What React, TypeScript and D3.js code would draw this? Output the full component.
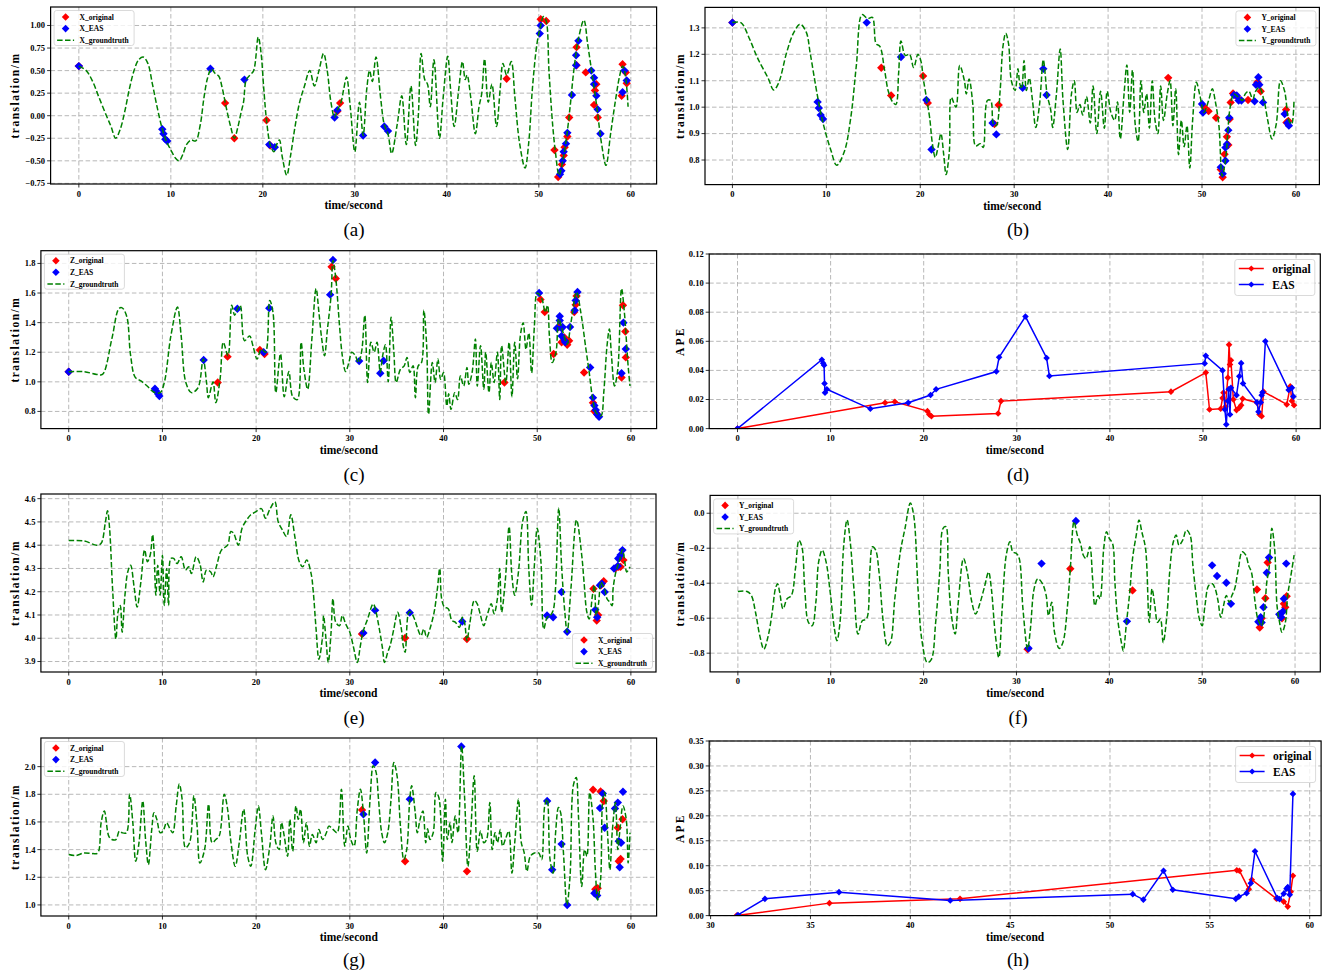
import React from "react";
import * as d3 from "d3";

type P = [number, number];

const FONT = "'Liberation Serif', 'Times New Roman', serif";
const RED = "#ff0000";
const BLUE = "#0000ff";
const GREEN = "#008000";

const TIME_TICKS = [0, 10, 20, 30, 40, 50, 60];
const TIME_TICKS_H = [30, 35, 40, 45, 50, 55, 60];

// ---------- (a) X ----------
const xTruthA: P[] = [
  [0, 0.55], [0.8, 0.5], [1.5, 0.38], [2.2, 0.2], [3, 0.0], [3.5, -0.12], [4, -0.25], [4.5, -0.15], [5, 0.05],
  [5.5, 0.3], [6, 0.5], [6.5, 0.62], [7, 0.65], [7.5, 0.58], [8, 0.35], [8.5, 0.1], [9, -0.12], [9.5, -0.28],
  [10, -0.38], [10.5, -0.47], [10.9, -0.5], [11.3, -0.43], [11.7, -0.32], [12.2, -0.27], [12.7, -0.28],
  [13.2, -0.1], [13.6, 0.2], [14, 0.42], [14.4, 0.52], [14.8, 0.47], [15.2, 0.44], [15.6, 0.3], [16, 0.1],
  [16.5, -0.12], [16.9, -0.25], [17.3, -0.12], [17.6, 0.02], [17.9, 0.15], [18.2, 0.4], [18.6, 0.45], [19, 0.5],
  [19.5, 0.87], [19.8, 0.7], [20.1, 0.3], [20.4, -0.05], [20.8, -0.32], [21.2, -0.4], [21.5, -0.32],
  [21.8, -0.27], [22.1, -0.45], [22.6, -0.66], [23, -0.45], [23.5, -0.12], [24, 0.15], [24.5, 0.32],
  [25.1, 0.5], [25.6, 0.33], [26.1, 0.5], [26.6, 0.69], [27, 0.5], [27.4, 0.15], [27.8, -0.02], [28.1, 0.06],
  [28.5, 0.15], [28.8, 0.3], [29.1, 0.43], [29.5, 0.1], [30, -0.4], [30.5, 0.15], [30.9, -0.22], [31.3, 0.3],
  [31.6, 0.5], [31.9, 0.38], [32.3, 0.65], [32.8, 0.2], [33.2, -0.1], [33.6, -0.2], [34, -0.42], [34.6, -0.1],
  [35.1, 0.22], [35.6, -0.32], [36.1, 0.33], [36.6, -0.33], [36.9, 0.0], [37.2, 0.69], [37.6, 0.4],
  [37.9, 0.35], [38.2, 0.1], [38.6, 0.62], [39.2, -0.25], [39.6, 0.2], [40.1, 0.66], [40.4, 0.3],
  [40.8, -0.12], [41.3, 0.3], [41.7, 0.6], [42, 0.4], [42.2, 0.45], [42.6, 0.2], [43.1, -0.2], [43.5, 0.1],
  [43.8, 0.25], [44.1, 0.63], [44.5, 0.15], [44.9, 0.35], [45.4, -0.12], [45.8, 0.3], [46.1, 0.58],
  [46.5, 0.45], [47.0, 0.6], [47.4, 0.2], [47.9, -0.3], [48.5, -0.58], [48.9, -0.3], [49.3, 0.3], [49.8, 0.8],
  [50.2, 1.0], [50.5, 1.1], [50.8, 1.05], [51.1, 0.5], [51.5, -0.1], [51.8, -0.4], [52.2, -0.66],
  [52.6, -0.5], [53.0, -0.25], [53.4, 0.1], [53.8, 0.5], [54.3, 0.85], [54.9, 1.06], [55.3, 0.8],
  [55.8, 0.45], [56.3, 0.1], [56.8, -0.3], [57.3, -0.55], [57.8, -0.2], [58.3, 0.15], [58.8, 0.45],
  [59.1, 0.55], [59.4, 0.45], [59.7, 0.1],
];
const xOrigA: P[] = [
  [0, 0.55], [15.9, 0.14], [16.9, -0.25], [20.4, -0.05], [20.8, -0.33], [28.1, 0.05], [28.4, 0.14],
  [46.5, 0.41], [50.2, 1.07], [50.8, 1.05], [51.7, -0.38], [52.1, -0.68], [52.5, -0.54], [52.7, -0.44],
  [52.8, -0.35], [53.1, -0.23], [53.3, -0.02], [54.1, 0.76], [54.1, 0.56], [55.1, 0.48], [56.0, 0.12],
  [56.1, 0.28], [56.25, 0.35], [56.4, -0.02], [59.0, 0.22], [59.1, 0.57], [59.45, 0.48], [59.55, 0.36],
];
const xEasA: P[] = [
  [0, 0.55], [9.07, -0.15], [9.2, -0.2], [9.4, -0.26], [9.6, -0.28], [14.3, 0.52], [18.0, 0.4],
  [20.7, -0.32], [21.3, -0.35], [27.8, -0.02], [28.1, 0.06], [30.9, -0.22], [33.2, -0.12], [33.6, -0.17],
  [50.1, 0.91], [50.2, 1.0], [52.3, -0.65], [52.45, -0.61], [52.6, -0.5], [52.7, -0.4], [52.95, -0.31],
  [53.1, -0.19], [53.6, 0.23], [54.05, 0.67], [54.05, 0.56], [54.3, 0.83], [55.7, 0.5], [56.0, 0.42],
  [56.0, 0.35], [56.25, 0.22], [56.4, 0.07], [56.7, -0.2], [59.1, 0.26], [59.3, 0.5], [59.55, 0.39],
];

// ---------- (b) Y ----------
const yTruthB: P[] = [
  [0, 1.32], [0.9, 1.32], [1.8, 1.26], [2.5, 1.2], [2.9, 1.17], [3.8, 1.11], [4.4, 1.065], [4.9, 1.09],
  [5.8, 1.21], [6.5, 1.28], [7.2, 1.314], [7.85, 1.285], [8.3, 1.2], [9.07, 1.04], [9.65, 0.94], [10.5, 0.835],
  [11.1, 0.78], [11.9, 0.83], [12.6, 0.96], [13.2, 1.16], [13.8, 1.35], [14.4, 1.335], [14.9, 1.34],
  [15.3, 1.24], [15.7, 1.23], [16.2, 1.14], [16.6, 1.06], [17.05, 1.02], [17.4, 1.01], [17.7, 1.13],
  [17.95, 1.25], [18.4, 1.196], [18.85, 1.2], [19.3, 1.15], [19.75, 1.2], [20.1, 1.17], [20.3, 1.113],
  [20.65, 1.037], [21.0, 0.96], [21.3, 0.86], [21.6, 0.81], [21.9, 0.85], [22.2, 0.9], [22.5, 0.82],
  [22.75, 0.745], [23.1, 0.834], [23.3, 1.037], [23.8, 1.0], [24.2, 1.158], [24.7, 1.1], [24.9, 1.05],
  [25.2, 1.107], [25.6, 1.01], [25.9, 0.853], [26.4, 0.862], [26.7, 0.847], [27.15, 1.025], [27.5, 1.025],
  [27.8, 0.936], [28.1, 0.93], [28.5, 1.06], [28.8, 1.228], [29.1, 1.28], [29.4, 1.24], [29.7, 1.1],
  [30.1, 1.063], [30.4, 1.145], [30.6, 1.088], [30.8, 1.07], [31.05, 1.177], [31.3, 1.063], [31.6, 1.11],
  [31.95, 1.025], [32.3, 0.923], [32.7, 1.01], [33.1, 1.18], [33.3, 1.126], [33.5, 1.05], [33.9, 0.987],
  [34.1, 0.923], [34.5, 1.05], [34.9, 1.22], [35.2, 1.025], [35.7, 0.84], [36.1, 1.05], [36.4, 1.1],
  [36.7, 0.98], [37.0, 1.01], [37.3, 0.97], [37.7, 1.04], [38.1, 0.94], [38.4, 1.08], [38.8, 0.9],
  [39.2, 1.06], [39.6, 0.92], [39.9, 1.06], [40.3, 0.98], [40.7, 0.95], [41.0, 1.02], [41.3, 0.88],
  [41.7, 1.05], [42.0, 1.16], [42.3, 0.98], [42.6, 1.14], [42.9, 0.93], [43.2, 0.87], [43.5, 1.1],
  [43.8, 0.98], [44.1, 1.05], [44.4, 0.92], [44.7, 1.1], [45.0, 0.95], [45.3, 0.9], [45.6, 1.08],
  [45.9, 0.95], [46.3, 1.05], [46.6, 1.1], [46.9, 0.93], [47.2, 1.07], [47.5, 0.82], [47.8, 0.95],
  [48.1, 0.85], [48.4, 0.93], [48.7, 0.77], [49.0, 0.95], [49.4, 1.094], [49.8, 1.04], [50.2, 0.98],
  [50.7, 1.025], [51.1, 1.07], [51.4, 1.025], [51.8, 0.93], [52.15, 0.74], [52.5, 0.8], [53.0, 1.0],
  [53.4, 1.05], [53.8, 1.04], [54.3, 1.025], [54.6, 1.05], [55.0, 1.06], [55.4, 1.03], [55.7, 1.06],
  [56.1, 1.075], [56.6, 1.025], [57.0, 0.95], [57.45, 0.88], [57.9, 0.935], [58.35, 1.1], [58.8, 1.06],
  [59.25, 0.95], [59.55, 0.936], [59.8, 1.03],
];
const yOrigB: P[] = [
  [0, 1.32], [15.85, 1.149], [16.9, 1.044], [20.3, 1.118], [20.8, 1.016], [27.9, 0.936], [28.35, 1.008],
  [46.4, 1.111], [50.25, 1.0], [50.7, 0.985], [51.5, 0.96], [52.0, 0.764], [52.2, 0.735], [52.4, 0.822],
  [52.65, 0.888], [52.8, 0.857], [52.95, 0.955], [53.05, 1.018], [53.3, 1.052], [53.8, 1.037], [54.9, 1.027],
  [55.9, 1.094], [56.25, 1.06], [58.95, 0.99], [59.0, 0.942], [59.2, 0.948],
];
const yEasB: P[] = [
  [0, 1.32], [9.07, 1.02], [9.2, 0.997], [9.4, 0.97], [9.65, 0.955], [14.3, 1.32], [17.95, 1.19],
  [20.65, 1.027], [21.2, 0.84], [27.7, 0.94], [28.1, 0.897], [30.9, 1.073], [33.1, 1.145], [33.45, 1.046],
  [50.0, 1.012], [50.1, 0.98], [52.0, 0.773], [52.2, 0.748], [52.5, 0.797], [52.5, 0.847], [52.65, 0.86],
  [52.8, 0.913], [52.9, 0.96], [53.4, 1.046], [53.7, 1.044], [53.9, 1.025], [54.2, 1.025], [55.6, 1.022],
  [55.75, 1.085], [56.0, 1.113], [56.1, 1.085], [56.5, 1.018], [58.8, 0.974], [59.1, 0.94], [59.25, 0.93],
];

// ---------- (c) Z ----------
const zTruthC: P[] = [
  [0, 1.068], [1.66, 1.068], [3.0, 1.05], [3.6, 1.05], [4.6, 1.29], [5.35, 1.494], [5.7, 1.5], [6.2, 1.44],
  [6.6, 1.18], [7.1, 1.03], [7.7, 1.006], [8.4, 0.97], [9.1, 0.93], [9.76, 0.927], [10.2, 0.995], [10.9, 1.31],
  [11.6, 1.505], [12.0, 1.31], [12.5, 0.995], [13.1, 0.927], [13.8, 0.96], [14.35, 1.154], [14.7, 1.0],
  [14.9, 0.893], [15.4, 1.0], [15.7, 0.859], [16.15, 1.017], [16.5, 1.267], [17.0, 1.176], [17.4, 1.517],
  [17.7, 1.45], [18.0, 1.49], [18.3, 1.517], [18.76, 1.278], [19.3, 1.31], [19.66, 1.244], [20.1, 1.154],
  [20.55, 1.222], [21.0, 1.2], [21.45, 1.55], [21.8, 1.47], [22.1, 0.927], [22.6, 1.19], [23.0, 0.9],
  [23.5, 1.07], [23.9, 0.9], [24.4, 0.88], [24.8, 1.267], [25.1, 1.085], [25.5, 0.95], [25.95, 1.29],
  [26.4, 1.63], [26.7, 1.47], [27.0, 1.29], [27.3, 1.176], [27.6, 1.35], [28.0, 1.585], [28.2, 1.82],
  [28.5, 1.7], [28.9, 1.38], [29.2, 1.176], [29.55, 1.07], [29.9, 1.13], [30.2, 1.2], [30.6, 1.176],
  [30.9, 1.13], [31.25, 1.2], [31.6, 1.45], [31.9, 0.995], [32.25, 1.267], [32.6, 1.2], [32.9, 1.267],
  [33.25, 1.063], [33.5, 1.176], [33.8, 1.25], [34.1, 1.0], [34.4, 1.437], [34.7, 1.2], [34.95, 0.995],
  [35.4, 1.085], [35.8, 1.108], [36.1, 1.165], [36.4, 1.063], [36.75, 1.108], [37.0, 0.893], [37.3, 1.108],
  [37.65, 1.13], [37.9, 1.483], [38.2, 1.244], [38.4, 0.78], [38.8, 1.13], [39.1, 0.995], [39.4, 1.154],
  [39.7, 1.017], [40.0, 1.063], [40.35, 0.837], [40.55, 0.92], [40.8, 0.814], [41.2, 0.927], [41.5, 0.88],
  [41.8, 1.04], [42.15, 0.972], [42.5, 1.097], [42.7, 0.984], [43.05, 1.063], [43.4, 1.29], [43.6, 0.97],
  [43.95, 1.244], [44.3, 0.95], [44.5, 1.2], [44.85, 0.927], [45.1, 1.13], [45.4, 0.995], [45.75, 1.2],
  [46.0, 0.88], [46.2, 1.244], [46.65, 0.995], [47.0, 1.267], [47.3, 0.9], [47.6, 1.267], [47.9, 1.02],
  [48.2, 1.312], [48.5, 1.4], [48.8, 1.22], [49.1, 1.33], [49.4, 1.06], [49.7, 1.38], [50.0, 1.6],
  [50.5, 1.56], [50.85, 1.47], [51.1, 1.517], [51.3, 1.31], [51.6, 1.13], [52.0, 1.2], [52.3, 1.425],
  [52.75, 1.335], [53.2, 1.255], [53.6, 1.4], [54.2, 1.607], [54.65, 1.47], [55.2, 1.22], [55.55, 1.063],
  [55.9, 0.893], [56.3, 0.79], [56.8, 0.77], [57.1, 0.927], [57.45, 1.244], [57.7, 1.357], [57.9, 1.2],
  [58.25, 0.972], [58.6, 1.085], [59.0, 1.63], [59.3, 1.47], [59.7, 1.108], [59.9, 0.972],
];
const zOrigC: P[] = [
  [0, 1.068], [15.9, 0.995], [16.95, 1.17], [20.4, 1.215], [20.9, 1.188], [28.05, 1.777], [28.5, 1.698],
  [46.5, 0.995], [50.35, 1.557], [50.8, 1.471], [51.75, 1.188], [52.3, 1.37], [52.6, 1.267], [52.9, 1.3],
  [53.2, 1.25], [53.4, 1.278], [53.95, 1.471], [54.1, 1.52], [54.2, 1.58], [55.0, 1.063], [55.95, 0.859],
  [56.1, 0.802], [56.3, 0.79], [56.5, 0.773], [59.0, 1.029], [59.15, 1.517], [59.4, 1.34], [59.45, 1.165],
];
const zEasC: P[] = [
  [0, 1.068], [9.2, 0.954], [9.3, 0.94], [9.55, 0.918], [9.67, 0.904], [14.4, 1.147], [18.0, 1.494],
  [20.8, 1.2], [21.4, 1.498], [27.9, 1.589], [28.2, 1.823], [31.0, 1.14], [33.25, 1.058], [33.6, 1.142],
  [50.2, 1.6], [52.1, 1.362], [52.4, 1.414], [52.4, 1.443], [52.6, 1.362], [52.6, 1.31], [52.7, 1.37],
  [52.95, 1.278], [53.0, 1.267], [53.5, 1.37], [54.0, 1.483], [54.1, 1.55], [54.3, 1.607], [55.65, 1.097],
  [55.95, 0.893], [56.1, 0.84], [56.25, 0.81], [56.4, 0.78], [56.6, 0.764], [59.0, 1.058], [59.2, 1.4],
  [59.45, 1.222],
];

// ---------- (d) APE ----------
const apeOrigD: P[] = [
  [0, 0], [15.85, 0.0178], [16.9, 0.0185], [20.4, 0.012], [20.6, 0.0097], [20.83, 0.0085], [27.99, 0.0104],
  [28.3, 0.0189], [46.56, 0.0254], [50.3, 0.0385], [50.7, 0.0131], [51.9, 0.0136], [52.1, 0.021],
  [52.2, 0.0247], [52.4, 0.015], [52.67, 0.035], [52.8, 0.0577], [52.9, 0.044], [53.0, 0.047], [53.26, 0.02],
  [53.6, 0.0127], [53.9, 0.0143], [54.1, 0.016], [54.26, 0.0205], [55.8, 0.0178], [56.07, 0.0097],
  [56.3, 0.0085], [56.5, 0.0254], [59.0, 0.0166], [59.37, 0.029], [59.55, 0.019], [59.78, 0.016],
];
const apeEasD: P[] = [
  [0, 0], [9.06, 0.0473], [9.2, 0.045], [9.3, 0.0436], [9.35, 0.031], [9.4, 0.0247], [9.6, 0.027],
  [14.27, 0.0136], [18.34, 0.0178], [20.74, 0.0231], [21.33, 0.027], [27.8, 0.0392], [28.1, 0.049],
  [30.93, 0.077], [33.2, 0.0485], [33.5, 0.0362], [50.18, 0.0448], [50.3, 0.05], [52.1, 0.04],
  [52.35, 0.0131], [52.5, 0.0028], [52.67, 0.019], [52.76, 0.027], [52.9, 0.0097], [53.0, 0.028],
  [53.6, 0.023], [53.9, 0.036], [54.1, 0.045], [54.3, 0.031], [55.8, 0.018], [55.96, 0.0115], [56.2, 0.018],
  [56.3, 0.023], [56.4, 0.025], [56.7, 0.06], [59.2, 0.0265], [59.55, 0.028], [59.7, 0.022],
];

// ---------- (e) X ----------
const xTruthE: P[] = [
  [0, 4.42], [1.66, 4.418], [3.0, 4.4], [3.46, 4.408], [3.9, 4.495], [4.14, 4.548], [4.36, 4.473],
  [4.68, 4.213], [5.04, 3.997], [5.26, 4.112], [5.5, 4.141], [5.7, 4.026], [6.0, 4.185], [6.3, 4.285],
  [6.6, 4.314], [7.0, 4.213], [7.3, 4.134], [7.7, 4.242], [8.1, 4.38], [8.4, 4.329], [8.7, 4.358],
  [8.95, 4.445], [9.1, 4.38], [9.3, 4.185], [9.5, 4.314], [9.76, 4.185], [10.0, 4.357], [10.2, 4.141],
  [10.45, 4.3], [10.66, 4.141], [10.9, 4.343], [11.2, 4.343], [11.56, 4.321], [12.0, 4.35], [12.46, 4.293],
  [12.8, 4.307], [13.1, 4.278], [13.6, 4.35], [14.0, 4.32], [14.35, 4.242], [14.7, 4.293], [15.16, 4.285],
  [15.4, 4.264], [15.8, 4.314], [16.3, 4.379], [16.96, 4.4], [17.3, 4.459], [17.6, 4.451], [18.1, 4.4],
  [18.5, 4.473], [19.0, 4.509], [19.43, 4.531], [19.9, 4.542], [20.56, 4.557], [21.0, 4.516], [21.45, 4.553],
  [22.0, 4.586], [22.36, 4.5], [22.8, 4.466], [23.26, 4.437], [23.7, 4.531], [24.16, 4.43], [24.6, 4.33],
  [24.97, 4.307], [25.4, 4.336], [25.87, 4.278], [26.1, 4.2], [26.4, 4.04], [26.7, 3.91], [27.1, 4.011],
  [27.2, 4.097], [27.45, 4.0], [27.7, 3.896], [28.0, 4.026], [28.2, 4.17], [28.5, 4.069], [28.9, 4.054],
  [29.2, 4.098], [29.55, 4.062], [30.0, 4.026], [30.36, 3.968], [30.8, 3.896], [31.1, 3.961], [31.4, 4.026],
  [31.9, 4.083], [32.5, 4.148], [32.8, 4.112], [33.15, 4.04], [33.5, 3.954], [33.7, 3.896], [34.05, 3.94],
  [34.3, 3.968], [34.7, 4.04], [35.1, 4.112], [35.5, 4.04], [35.7, 3.968], [35.9, 3.94], [36.3, 4.112],
  [36.5, 4.112], [36.9, 4.083], [37.2, 4.047], [37.6, 4.011], [37.9, 4.04], [38.2, 4.004], [38.55, 4.04],
  [39.0, 4.112], [39.35, 4.213], [39.6, 4.3], [39.8, 4.17], [40.1, 4.134], [40.5, 4.127], [40.9, 4.076],
  [41.25, 4.069], [41.7, 4.047], [42.0, 4.09], [42.24, 4.069], [42.5, 3.99], [42.8, 4.062], [43.3, 4.163],
  [43.6, 4.148], [43.95, 4.098], [44.3, 4.054], [44.6, 4.09], [45.1, 4.148], [45.4, 4.105], [45.75, 4.17],
  [46.0, 4.3], [46.2, 4.112], [46.6, 4.25], [47.0, 4.48], [47.3, 4.27], [47.6, 4.185], [48.0, 4.285],
  [48.45, 4.502], [48.8, 4.545], [49.1, 4.3], [49.4, 4.141], [49.7, 4.314], [50.0, 4.473], [50.4, 4.329],
  [50.7, 4.04], [51.06, 4.09], [51.4, 4.098], [51.7, 4.119], [51.95, 4.213], [52.3, 4.56], [52.6, 4.314],
  [52.95, 4.112], [53.2, 4.026], [53.6, 4.213], [54.2, 4.509], [54.75, 4.358], [55.0, 4.242], [55.3, 4.112],
  [55.55, 4.083], [55.9, 4.185], [56.1, 4.228], [56.3, 4.098], [56.55, 4.15], [56.8, 4.242], [57.0, 4.228],
  [57.2, 4.213], [57.45, 4.17], [57.75, 4.155], [58.0, 4.14], [58.1, 4.213], [58.4, 4.285], [58.8, 4.336],
  [59.1, 4.38], [59.4, 4.314], [59.55, 4.285], [59.9, 4.307],
];
const xOrigE: P[] = [
  [31.3, 4.018], [35.9, 4.001], [42.5, 3.997], [56.0, 4.213], [56.35, 4.076], [56.5, 4.1], [56.8, 4.228],
  [57.1, 4.245], [58.35, 4.3], [58.7, 4.307], [58.9, 4.307], [59.2, 4.336],
];
const xEasE: P[] = [
  [31.45, 4.023], [32.7, 4.12], [36.4, 4.11], [42.0, 4.072], [51.05, 4.098], [51.7, 4.09], [52.6, 4.199],
  [53.2, 4.028], [56.2, 4.122], [56.4, 4.09], [56.7, 4.228], [56.9, 4.235], [57.2, 4.199], [58.2, 4.3],
  [58.6, 4.311], [58.65, 4.343], [58.9, 4.358], [59.1, 4.379],
];

// ---------- (f) Y ----------
const yTruthF: P[] = [
  [0, -0.447], [1.0, -0.447], [1.45, -0.47], [1.9, -0.566], [2.36, -0.7], [2.8, -0.777], [3.27, -0.7],
  [3.7, -0.566], [4.04, -0.432], [4.27, -0.403], [4.5, -0.451], [4.86, -0.547], [5.3, -0.489], [5.76, -0.47],
  [6.2, -0.317], [6.58, -0.154], [6.9, -0.192], [7.2, -0.432], [7.6, -0.624], [8.0, -0.643], [8.4, -0.509],
  [8.7, -0.278], [9.08, -0.211], [9.5, -0.278], [9.94, -0.451], [10.4, -0.662], [10.67, -0.729], [11.0, -0.624],
  [11.4, -0.182], [11.76, -0.038], [12.1, -0.163], [12.5, -0.432], [12.94, -0.691], [13.4, -0.614],
  [13.85, -0.604], [14.2, -0.336], [14.5, -0.192], [14.84, -0.211], [15.2, -0.336], [15.66, -0.624],
  [16.1, -0.758], [16.43, -0.739], [16.9, -0.489], [17.5, -0.22], [18.0, -0.086], [18.57, 0.058],
  [18.93, -0.01], [19.4, -0.432], [19.8, -0.72], [20.4, -0.854], [20.84, -0.835], [21.3, -0.624],
  [21.74, -0.336], [22.1, -0.086], [22.4, -0.077], [22.65, -0.336], [23.0, -0.585], [23.4, -0.691],
  [23.7, -0.528], [24.3, -0.259], [24.7, -0.336], [25.2, -0.509], [25.6, -0.576], [26.1, -0.509],
  [26.55, -0.422], [27.0, -0.336], [27.3, -0.432], [27.7, -0.681], [28.1, -0.825], [28.46, -0.547],
  [28.9, -0.24], [29.3, -0.163], [29.6, -0.22], [30.0, -0.23], [30.3, -0.259], [30.7, -0.547], [31.2, -0.777],
  [31.5, -0.662], [31.9, -0.432], [32.3, -0.374], [32.8, -0.403], [33.2, -0.47], [33.45, -0.585],
  [33.8, -0.509], [34.1, -0.681], [34.6, -0.773], [35.0, -0.739], [35.5, -0.528], [35.8, -0.317],
  [36.2, -0.048], [36.55, -0.125], [36.9, -0.173], [37.2, -0.24], [37.5, -0.259], [37.9, -0.192],
  [38.2, -0.374], [38.45, -0.528], [38.8, -0.47], [39.0, -0.489], [39.4, -0.201], [39.7, -0.106],
  [40.0, -0.144], [40.35, -0.173], [40.6, -0.393], [40.9, -0.605], [41.3, -0.739], [41.5, -0.787],
  [41.85, -0.624], [42.2, -0.451], [42.5, -0.259], [42.9, -0.125], [43.2, -0.038], [43.5, -0.106],
  [43.9, -0.201], [44.3, -0.624], [44.6, -0.432], [44.9, -0.528], [45.2, -0.624], [45.5, -0.605],
  [45.8, -0.739], [46.2, -0.585], [46.5, -0.336], [46.85, -0.173], [47.2, -0.125], [47.5, -0.182],
  [47.9, -0.154], [48.3, -0.096], [48.7, -0.125], [49.0, -0.298], [49.35, -0.47], [49.7, -0.605],
  [50.0, -0.643], [50.3, -0.528], [50.7, -0.413], [51.1, -0.403], [51.4, -0.432], [51.7, -0.499],
  [52.0, -0.595], [52.3, -0.528], [52.6, -0.47], [52.9, -0.509], [53.2, -0.47], [53.5, -0.432],
  [53.9, -0.317], [54.3, -0.22], [54.7, -0.24], [55.0, -0.298], [55.3, -0.336], [55.7, -0.509],
  [56.0, -0.605], [56.4, -0.643], [56.7, -0.566], [56.96, -0.393], [57.2, -0.317], [57.5, -0.086],
  [57.8, -0.201], [58.06, -0.528], [58.3, -0.614], [58.6, -0.681], [58.96, -0.624], [59.2, -0.47],
  [59.5, -0.374], [59.9, -0.24],
];
const yOrigF: P[] = [
  [31.2, -0.777], [35.8, -0.317], [42.5, -0.441], [55.9, -0.436], [56.2, -0.653], [56.4, -0.601],
  [56.8, -0.486], [57.05, -0.282], [58.6, -0.601], [58.8, -0.518], [58.95, -0.537], [59.1, -0.474],
];
const yEasF: P[] = [
  [31.3, -0.772], [32.7, -0.288], [36.4, -0.044], [41.9, -0.618], [51.07, -0.298], [51.6, -0.359],
  [52.6, -0.397], [53.1, -0.518], [56.05, -0.62], [56.3, -0.595], [56.4, -0.624], [56.6, -0.537],
  [56.96, -0.34], [57.2, -0.253], [58.3, -0.578], [58.5, -0.595], [58.7, -0.562], [58.8, -0.489],
  [59.05, -0.288],
];

// ---------- (g) Z ----------
const zTruthG: P[] = [
  [0, 1.364], [0.76, 1.357], [1.66, 1.376], [2.56, 1.371], [3.1, 1.376], [3.46, 1.595], [3.8, 1.68],
  [4.27, 1.498], [4.6, 1.473], [5.04, 1.473], [5.4, 1.534], [5.7, 1.522], [6.16, 1.522], [6.5, 1.8],
  [6.84, 1.595], [7.15, 1.316], [7.5, 1.45], [7.9, 1.752], [8.2, 1.473], [8.5, 1.291], [8.86, 1.546],
  [9.1, 1.667], [9.4, 1.619], [9.76, 1.522], [10.07, 1.534], [10.44, 1.595], [10.8, 1.55], [11.1, 1.522],
  [11.47, 1.716], [11.8, 1.874], [12.1, 1.765], [12.46, 1.413], [12.9, 1.45], [13.36, 1.789], [13.7, 1.57],
  [14.0, 1.303], [14.5, 1.4], [14.93, 1.728], [15.3, 1.45], [15.7, 1.473], [16.06, 1.498], [16.6, 1.8],
  [16.96, 1.69], [17.3, 1.461], [17.77, 1.279], [18.2, 1.45], [18.67, 1.692], [19.1, 1.352], [19.43, 1.279],
  [19.9, 1.546], [20.24, 1.716], [20.56, 1.522], [21.0, 1.255], [21.46, 1.425], [21.8, 1.643], [22.1, 1.45],
  [22.45, 1.4], [22.7, 1.595], [23.0, 1.498], [23.35, 1.352], [23.6, 1.619], [23.9, 1.388], [24.25, 1.716],
  [24.5, 1.619], [24.74, 1.692], [25.05, 1.45], [25.37, 1.595], [25.7, 1.425], [26.0, 1.51], [26.4, 1.45],
  [26.7, 1.546], [27.1, 1.473], [27.5, 1.522], [27.76, 1.57], [28.2, 1.546], [28.65, 1.522], [29.1, 1.837],
  [29.46, 1.425], [29.8, 1.57], [30.1, 1.473], [30.45, 1.425], [30.8, 1.692], [31.13, 1.837], [31.45, 1.667],
  [31.8, 1.376], [32.16, 1.765], [32.5, 2.007], [32.8, 1.96], [33.06, 1.765], [33.4, 1.522], [33.7, 1.45],
  [34.05, 1.522], [34.4, 1.765], [34.7, 2.03], [35.04, 1.934], [35.4, 1.57], [35.76, 1.328], [36.07, 1.4],
  [36.4, 1.765], [36.6, 1.862], [36.98, 1.667], [37.2, 1.522], [37.5, 1.619], [37.8, 1.68], [38.1, 1.45],
  [38.3, 1.55], [38.55, 1.473], [38.9, 1.522], [39.2, 1.813], [39.5, 1.777], [39.9, 1.316], [40.2, 1.765],
  [40.4, 1.473], [40.7, 1.595], [40.9, 1.45], [41.25, 1.643], [41.55, 1.522], [41.93, 2.148], [42.24, 1.789],
  [42.6, 1.279], [42.9, 1.522], [43.27, 1.934], [43.6, 1.388], [43.95, 1.534], [44.3, 1.45], [44.6, 1.473],
  [44.94, 1.74], [45.2, 1.4], [45.5, 1.522], [45.75, 1.45], [46.06, 1.546], [46.3, 1.425], [46.65, 1.485],
  [46.96, 1.534], [47.3, 1.23], [47.6, 1.45], [48.0, 1.765], [48.3, 1.45], [48.6, 1.38], [48.9, 1.243],
  [49.26, 1.352], [49.7, 1.376], [50.16, 1.376], [50.47, 1.328], [50.8, 1.716], [51.06, 1.765],
  [51.37, 1.328], [51.7, 1.23], [51.96, 1.522], [52.27, 1.704], [52.5, 1.667], [52.8, 1.376], [53.17, 1.0],
  [53.5, 1.206], [53.85, 1.862], [54.16, 1.922], [54.4, 1.643], [54.75, 1.133], [55.06, 1.4], [55.3, 1.352],
  [55.6, 1.813], [55.96, 1.619], [56.2, 1.255], [56.45, 1.036], [56.76, 1.18], [57.0, 1.765], [57.2, 1.813],
  [57.5, 1.522], [57.76, 1.255], [58.0, 1.522], [58.35, 1.74], [58.6, 1.4], [58.8, 1.522], [59.15, 1.716],
  [59.5, 1.619], [59.7, 1.303], [59.9, 1.522],
];
const zOrigG: P[] = [
  [31.3, 1.687], [35.9, 1.316], [42.5, 1.243], [55.96, 1.833], [56.2, 1.114], [56.45, 1.121], [56.76, 1.82],
  [57.1, 1.752], [58.6, 1.558], [58.7, 1.316], [58.9, 1.333], [59.1, 1.619],
];
const zEasG: P[] = [
  [31.45, 1.655], [32.7, 2.03], [36.4, 1.765], [41.9, 2.145], [51.06, 1.752], [51.6, 1.255], [52.6, 1.44],
  [53.2, 1.0], [56.1, 1.085], [56.4, 1.068], [56.7, 1.7], [57.0, 1.806], [57.2, 1.558], [58.3, 1.697],
  [58.6, 1.74], [58.7, 1.461], [58.8, 1.272], [58.95, 1.45], [59.15, 1.818],
];

// ---------- (h) APE ----------
const apeOrigH: P[] = [
  [31.3, 0.0], [35.95, 0.025], [42.49, 0.0336], [56.35, 0.091], [56.48, 0.09], [56.95, 0.053], [57.1, 0.072],
  [58.33, 0.034], [58.7, 0.028], [58.9, 0.018], [59.05, 0.048], [59.16, 0.08],
];
const apeEasH: P[] = [
  [31.37, 0.0013], [32.72, 0.0336], [36.43, 0.047], [42.0, 0.0303], [51.14, 0.043], [51.67, 0.032],
  [52.68, 0.09], [53.14, 0.0518], [56.3, 0.0336], [56.45, 0.038], [56.84, 0.045], [57.05, 0.065],
  [57.26, 0.129], [58.38, 0.035], [58.49, 0.033], [58.7, 0.044], [58.84, 0.054], [58.9, 0.057], [59.0, 0.042],
  [59.16, 0.244],
];

const TICKS_A = [-0.75, -0.5, -0.25, 0, 0.25, 0.5, 0.75, 1.0];
const TICKS_B = [0.8, 0.9, 1.0, 1.1, 1.2, 1.3];
const TICKS_C = [0.8, 1.0, 1.2, 1.4, 1.6, 1.8];
const TICKS_D = [0, 0.02, 0.04, 0.06, 0.08, 0.1, 0.12];
const TICKS_E = [3.9, 4.0, 4.1, 4.2, 4.3, 4.4, 4.5, 4.6];
const TICKS_F = [-0.8, -0.6, -0.4, -0.2, 0.0];
const TICKS_G = [1.0, 1.2, 1.4, 1.6, 1.8, 2.0];
const TICKS_H = [0, 0.05, 0.1, 0.15, 0.2, 0.25, 0.3, 0.35];

type Box = { x0: number; x1: number; y0: number; y1: number };
type Panel = {
  id: string;
  kind: "track" | "ape";
  box: Box;
  xDomain: [number, number];
  yDomain: [number, number];
  xTicks: number[];
  yTicks: number[];
  digits: number;
  yLabel: string;
  caption: string;
  capX: number;
  capY: number;
  truth?: P[];
  orig: P[];
  eas: P[];
  names: string[];
  legendPos: "ul" | "ur" | "lr";
};

const panels: Panel[] = [
  { id: "a", kind: "track", box: { x0: 50.6, x1: 656.6, y0: 7, y1: 184 }, xDomain: [-3.07, 62.8], yDomain: [-0.757, 1.205],
    xTicks: TIME_TICKS, yTicks: TICKS_A, digits: 2, yLabel: "translation/m", caption: "(a)", capX: 354, capY: 236,
    truth: xTruthA, orig: xOrigA, eas: xEasA, names: ["X_original", "X_EAS", "X_groundtruth"], legendPos: "ul" },
  { id: "b", kind: "track", box: { x0: 705, x1: 1319.4, y0: 7.4, y1: 184.6 }, xDomain: [-2.92, 62.5], yDomain: [0.707, 1.3775],
    xTicks: TIME_TICKS, yTicks: TICKS_B, digits: 1, yLabel: "translation/m", caption: "(b)", capX: 1018, capY: 236,
    truth: yTruthB, orig: yOrigB, eas: yEasB, names: ["Y_original", "Y_EAS", "Y_groundtruth"], legendPos: "ur" },
  { id: "c", kind: "track", box: { x0: 40.9, x1: 656.6, y0: 250.7, y1: 428.6 }, xDomain: [-2.97, 62.74], yDomain: [0.684, 1.886],
    xTicks: TIME_TICKS, yTicks: TICKS_C, digits: 1, yLabel: "translation/m", caption: "(c)", capX: 354, capY: 480.5,
    truth: zTruthC, orig: zOrigC, eas: zEasC, names: ["Z_original", "Z_EAS", "Z_groundtruth"], legendPos: "ul" },
  { id: "d", kind: "ape", box: { x0: 709.2, x1: 1320.3, y0: 254, y1: 428.6 }, xDomain: [-3.04, 62.6], yDomain: [0, 0.12],
    xTicks: TIME_TICKS, yTicks: TICKS_D, digits: 2, yLabel: "APE", caption: "(d)", capX: 1018, capY: 480.5,
    orig: apeOrigD, eas: apeEasD, names: ["original", "EAS"], legendPos: "ur" },
  { id: "e", kind: "track", box: { x0: 40.9, x1: 656, y0: 494, y1: 672 }, xDomain: [-2.97, 62.68], yDomain: [3.855, 4.62],
    xTicks: TIME_TICKS, yTicks: TICKS_E, digits: 1, yLabel: "translation/m", caption: "(e)", capX: 354, capY: 724,
    truth: xTruthE, orig: xOrigE, eas: xEasE, names: ["X_original", "X_EAS", "X_groundtruth"], legendPos: "lr" },
  { id: "f", kind: "track", box: { x0: 710.1, x1: 1320.3, y0: 495.4, y1: 671.9 }, xDomain: [-2.99, 62.72], yDomain: [-0.907, 0.102],
    xTicks: TIME_TICKS, yTicks: TICKS_F, digits: 1, yLabel: "translation/m", caption: "(f)", capX: 1018, capY: 724,
    truth: yTruthF, orig: yOrigF, eas: yEasF, names: ["Y_original", "Y_EAS", "Y_groundtruth"], legendPos: "ul" },
  { id: "g", kind: "track", box: { x0: 40.9, x1: 656.6, y0: 738, y1: 916 }, xDomain: [-2.97, 62.74], yDomain: [0.92, 2.207],
    xTicks: TIME_TICKS, yTicks: TICKS_G, digits: 1, yLabel: "translation/m", caption: "(g)", capX: 354, capY: 966,
    truth: zTruthG, orig: zOrigG, eas: zEasG, names: ["Z_original", "Z_EAS", "Z_groundtruth"], legendPos: "ul" },
  { id: "h", kind: "ape", box: { x0: 709.2, x1: 1321.1, y0: 741, y1: 915.6 }, xDomain: [29.93, 60.57], yDomain: [0, 0.35],
    xTicks: TIME_TICKS_H, yTicks: TICKS_H, digits: 2, yLabel: "APE", caption: "(h)", capX: 1018, capY: 966,
    orig: apeOrigH, eas: apeEasH, names: ["original", "EAS"], legendPos: "ur" },
];

const diamond = (r: number) => `M0,${-r}L${r},0L0,${r}L${-r},0Z`;
const fmt = (v: number, digits: number) => {
  const s = Math.abs(v).toFixed(digits);
  return v < -1e-9 ? "\u2212" + s : s;
};

function ChartPanel({ p }: { p: Panel }) {
  const { box } = p;
  const x = d3.scaleLinear().domain(p.xDomain).range([box.x0, box.x1]);
  const y = d3.scaleLinear().domain(p.yDomain).range([box.y1, box.y0]);
  const clipId = `clip-${p.id}`;
  const truthLine = d3
    .line<P>()
    .x((d) => x(d[0]))
    .y((d) => y(d[1]))
    .curve(d3.curveCatmullRom.alpha(0.5));
  const apeLine = d3
    .line<P>()
    .x((d) => x(d[0]))
    .y((d) => y(d[1]));
  const isApe = p.kind === "ape";
  const mr = isApe ? 3.3 : 4.2;

  // legend geometry
  const lw = 80;
  const lh = isApe ? 36 : 35;
  const pad = isApe ? 5.5 : 3.5;
  let lx = box.x0 + pad;
  let ly = box.y0 + pad;
  if (p.legendPos === "ur") lx = box.x1 - pad - lw;
  if (p.legendPos === "lr") {
    lx = box.x1 - pad - lw;
    ly = box.y1 - pad - lh;
  }

  return (
    <g>
      <defs>
        <clipPath id={clipId}>
          <rect x={box.x0} y={box.y0} width={box.x1 - box.x0} height={box.y1 - box.y0} />
        </clipPath>
      </defs>
      <rect x={box.x0} y={box.y0} width={box.x1 - box.x0} height={box.y1 - box.y0} fill="#fff" />
      {/* grid */}
      <g stroke="#b0b0b0" strokeWidth={0.9} strokeDasharray="4.5,2.5">
        {p.xTicks.map((t) => (
          <line key={`gx${t}`} x1={x(t)} x2={x(t)} y1={box.y0} y2={box.y1} />
        ))}
        {p.yTicks.map((t) => (
          <line key={`gy${t}`} x1={box.x0} x2={box.x1} y1={y(t)} y2={y(t)} />
        ))}
      </g>
      <g clipPath={`url(#${clipId})`}>
        {isApe ? (
          <>
            <path d={apeLine(p.orig) || ""} fill="none" stroke={RED} strokeWidth={1.5} />
            {p.orig.map((d, i) => (
              <path key={`ro${i}`} d={diamond(mr)} transform={`translate(${x(d[0])},${y(d[1])})`} fill={RED} />
            ))}
            <path d={apeLine(p.eas) || ""} fill="none" stroke={BLUE} strokeWidth={1.5} />
            {p.eas.map((d, i) => (
              <path key={`be${i}`} d={diamond(mr)} transform={`translate(${x(d[0])},${y(d[1])})`} fill={BLUE} />
            ))}
          </>
        ) : (
          <>
            {p.orig.map((d, i) => (
              <path key={`ro${i}`} d={diamond(mr)} transform={`translate(${x(d[0])},${y(d[1])})`} fill={RED} />
            ))}
            {p.eas.map((d, i) => (
              <path key={`be${i}`} d={diamond(mr)} transform={`translate(${x(d[0])},${y(d[1])})`} fill={BLUE} />
            ))}
            <path
              d={truthLine(p.truth || []) || ""}
              fill="none"
              stroke={GREEN}
              strokeWidth={1.5}
              strokeDasharray="5.5,2.4"
            />
          </>
        )}
      </g>
      {/* spines */}
      <rect
        x={box.x0}
        y={box.y0}
        width={box.x1 - box.x0}
        height={box.y1 - box.y0}
        fill="none"
        stroke="#000"
        strokeWidth={1.2}
      />
      {/* ticks */}
      <g stroke="#000" strokeWidth={0.8}>
        {p.xTicks.map((t) => (
          <line key={`tx${t}`} x1={x(t)} x2={x(t)} y1={box.y1} y2={box.y1 + 3.5} />
        ))}
        {p.yTicks.map((t) => (
          <line key={`ty${t}`} x1={box.x0 - 3.5} x2={box.x0} y1={y(t)} y2={y(t)} />
        ))}
      </g>
      <g fontFamily={FONT} fontWeight="bold" fontSize={8.5} fill="#000">
        {p.xTicks.map((t) => (
          <text key={`lx${t}`} x={x(t)} y={box.y1 + 12.5} textAnchor="middle">
            {String(t)}
          </text>
        ))}
        {p.yTicks.map((t) => (
          <text key={`ly${t}`} x={box.x0 - 5.5} y={y(t) + 2.9} textAnchor="end">
            {fmt(t, p.digits)}
          </text>
        ))}
      </g>
      {/* axis labels */}
      <text
        x={(box.x0 + box.x1) / 2}
        y={box.y1 + 25}
        textAnchor="middle"
        fontFamily={FONT}
        fontWeight="bold"
        fontSize={11.5}
      >
        time/second
      </text>
      <text
        transform={`translate(${box.x0 < 400 ? 18.5 : 683.5},${(box.y0 + box.y1) / 2}) rotate(-90)`}
        textAnchor="middle"
        fontFamily={FONT}
        fontWeight="bold"
        fontSize={11.5}
        letterSpacing={isApe ? 2.2 : 1.5}
      >
        {p.yLabel}
      </text>
      <text x={p.capX} y={p.capY} textAnchor="middle" fontFamily={FONT} fontSize={19}>
        {p.caption}
      </text>
      {/* legend */}
      <g transform={`translate(${lx},${ly})`} fontFamily={FONT} fontWeight="bold">
        <rect width={lw} height={lh} rx={2.5} fill="#fff" fillOpacity={0.8} stroke="#d0d0d0" strokeWidth={0.8} />
        {isApe ? (
          <>
            {[RED, BLUE].map((c, i) => (
              <g key={c} transform={`translate(0,${9 + i * 16})`}>
                <line x1={4} x2={29} y1={0} y2={0} stroke={c} strokeWidth={1.5} />
                <path d={diamond(3)} transform="translate(16.5,0)" fill={c} />
                <text x={37.5} y={4} fontSize={11.5}>
                  {p.names[i]}
                </text>
              </g>
            ))}
          </>
        ) : (
          <>
            {[RED, BLUE].map((c, i) => (
              <g key={c} transform={`translate(0,${6.5 + i * 11.6})`}>
                <path d={diamond(3.8)} transform="translate(11.5,0)" fill={c} />
                <text x={25.5} y={2.6} fontSize={7.5}>
                  {p.names[i]}
                </text>
              </g>
            ))}
            <g transform={`translate(0,${6.5 + 2 * 11.6})`}>
              <line x1={3} x2={20} y1={0} y2={0} stroke={GREEN} strokeWidth={1.5} strokeDasharray="5.5,2.4" />
              <text x={25.5} y={2.6} fontSize={7.5}>
                {p.names[2]}
              </text>
            </g>
          </>
        )}
      </g>
    </g>
  );
}

export default function App() {
  return (
    <svg
      width={1325}
      height={972}
      viewBox="0 0 1325 972"
      style={{ position: "absolute", left: 0, top: 0, background: "#fff" }}
    >
      <rect width={1325} height={972} fill="#fff" />
      {panels.map((p) => (
        <ChartPanel key={p.id} p={p} />
      ))}
    </svg>
  );
}
